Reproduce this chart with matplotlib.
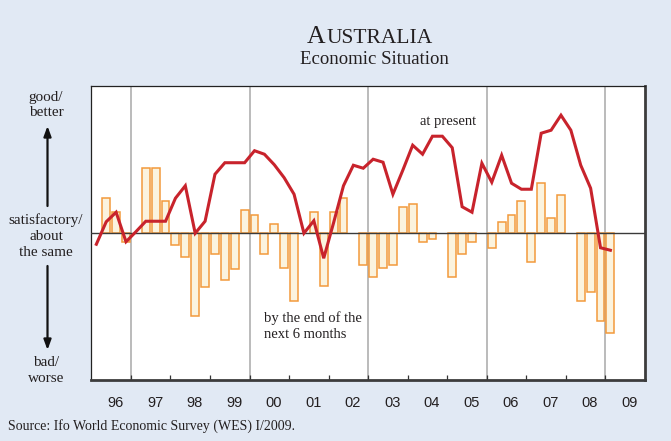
import numpy as np
import matplotlib
matplotlib.use('Agg')
import matplotlib.pyplot as plt
from matplotlib.transforms import blended_transform_factory

# ---------------- data (quarterly, Q1 1996 .. Q1 2009) ----------------
first_year = 1996
year_labels = ['96', '97', '98', '99', '00', '01', '02', '03', '04', '05',
               '06', '07', '08', '09']

# economic situation "at present" (line)
present = [-11.5, 11, 20.5, -9,
           1, 11.5, 11.5, 11.5,
           34.5, 47, -0.5, 11.5,
           58.5, 70, 70, 70,
           82, 78.5, 68, 55,
           38.5, -0.5, 12, -25.5,
           10, 47, 67.5, 64.5,
           73.5, 70.5, 38.5, 62.5,
           87.5, 78.5, 96.5, 96.5,
           85, 26, 20.5, 69.5,
           50.5, 77.5, 49.5, 43.5,
           43.5, 99.5, 102.5, 117.5,
           102.5, 67.5, 44.5, -15,
           -17.5]

# expectations "by the end of the next 6 months" (bars)
expected = [np.nan, 35, 20.5, -9.3,
            0, 64.5, 64.5, 32,
            -12.3, -24, -83, -54,
            -21, -47.6, -36, 23,
            17.4, -21, 8.4, -35.5,
            -68, 0, 20.3, -53.3,
            20.3, 35, 0, -32.5,
            -44.6, -35.5, -32.5, 26,
            29.2, -9.2, -6.5, 0,
            -44.6, -20.8, -9.2, 0,
            -15.3, 11, 17.4, 32,
            -29.6, 49.4, 14.4, 38,
            0, -68.2, -59.2, -88.3,
            -100.3]

# ---------------- figure ----------------
W, H = 671, 441
serif = 'Liberation Serif'
sans = 'Liberation Sans'
txt_col = '#231F20'

fig = plt.figure(figsize=(W / 100, H / 100), dpi=100)
fig.patch.set_facecolor('#E1E9F4')

left_px, right_px, top_px, bot_px = 91.4, 645, 86, 379.5
ax = fig.add_axes([left_px / W, 1 - bot_px / H,
                   (right_px - left_px) / W, (bot_px - top_px) / H])
ax.set_facecolor('white')

n = len(present)
xq = first_year + (np.arange(n) + 0.5) / 4.0
exp_arr = np.array(expected, dtype=float)
mask = np.isfinite(exp_arr) & (exp_arr != 0)

# year separators every three years
for yr in range(first_year + 1, first_year + len(year_labels) + 1, 3):
    ax.axvline(yr, color='#A8A8A8', lw=1.1, zorder=1)

ax.bar(xq[mask], exp_arr[mask], width=0.2, color='#FBF3DE',
       edgecolor='#F29A3C', linewidth=1.1, zorder=2)
ax.axhline(0, color='#3A3A3A', lw=1.0, zorder=3)
ax.plot(xq, present, color='#C8232C', lw=2.2, zorder=4,
        solid_joinstyle='miter')

ax.set_xlim(first_year, first_year + len(year_labels))
ax.set_ylim(-146.7, 146.7)
ax.set_yticks([])
ax.set_xticks(np.arange(first_year + 1, first_year + len(year_labels)))
ax.tick_params(axis='x', direction='in', length=3.5, width=0.9,
               color='#333333', labelbottom=False)

for s in ['left', 'top']:
    ax.spines[s].set_color('#222222')
    ax.spines[s].set_linewidth(0.9)
for s in ['bottom', 'right']:
    ax.spines[s].set_color('#3C3C3C')
    ax.spines[s].set_linewidth(2.0)

trans = blended_transform_factory(ax.transData, ax.transAxes)
for k, lab in enumerate(year_labels):
    ax.text(first_year + k + 0.61, -0.08, lab, transform=trans,
            ha='center', va='center', family=sans, fontsize=10.5,
            color=txt_col)

# annotations inside plot
ax.text(420.5 / W, 1 - 122 / H, 'at present', transform=fig.transFigure,
        ha='left', va='center', family=serif, fontsize=10.5, color=txt_col)
ax.text(264 / W, 1 - 326 / H, 'by the end of the\nnext 6 months',
        transform=fig.transFigure, ha='left', va='center', family=serif,
        fontsize=10.5, color=txt_col, linespacing=1.25)

# left-side scale labels
lx = 46 / W
fig.text(lx, 1 - 105 / H, 'good/\nbetter', ha='center', va='center',
         family=serif, fontsize=11, color=txt_col, linespacing=1.3,
         multialignment='center')
fig.text(lx, 1 - 236 / H, 'satisfactory/\nabout\nthe same', ha='center',
         va='center', family=serif, fontsize=11, color=txt_col,
         linespacing=1.3, multialignment='center')
fig.text(lx, 1 - 371 / H, 'bad/\nworse', ha='center', va='center',
         family=serif, fontsize=11, color=txt_col, linespacing=1.3,
         multialignment='center')

arrow_kw = dict(arrowstyle='-|>,head_length=0.6,head_width=0.22',
                color='#111111', lw=1.6, shrinkA=0, shrinkB=0)
ax_x = 47.5
fig.add_artist(matplotlib.patches.FancyArrowPatch(
    (ax_x / W, 1 - 206 / H), (ax_x / W, 1 - 126 / H),
    transform=fig.transFigure, mutation_scale=10, **arrow_kw))
fig.add_artist(matplotlib.patches.FancyArrowPatch(
    (ax_x / W, 1 - 266 / H), (ax_x / W, 1 - 350 / H),
    transform=fig.transFigure, mutation_scale=10, **arrow_kw))

# title with small caps
base_y = 1 - 42.7 / H
tA = fig.text(0, base_y, 'A', family=serif, fontsize=18.5, va='baseline',
              ha='left', color=txt_col)
tR = fig.text(0, base_y, 'USTRALIA', family=serif, fontsize=15.5,
              va='baseline', ha='left', color=txt_col)
fig.canvas.draw()
r = fig.canvas.get_renderer()
wA = tA.get_window_extent(r).width
wR = tR.get_window_extent(r).width
x0 = 369.5 - (wA + wR) / 2
tA.set_x(x0 / W)
tR.set_x((x0 + wA + 0.5) / W)

fig.text(374 / W, 1 - 63.5 / H, 'Economic Situation', family=serif,
         fontsize=13.5, ha='center', va='baseline', color=txt_col)

fig.text(8 / W, 1 - 426 / H, 'Source: Ifo World Economic Survey (WES) I/2009.',
         family=serif, fontsize=10, ha='left', va='center', color=txt_col)

fig.savefig('out.png', dpi=100, facecolor=fig.get_facecolor())
